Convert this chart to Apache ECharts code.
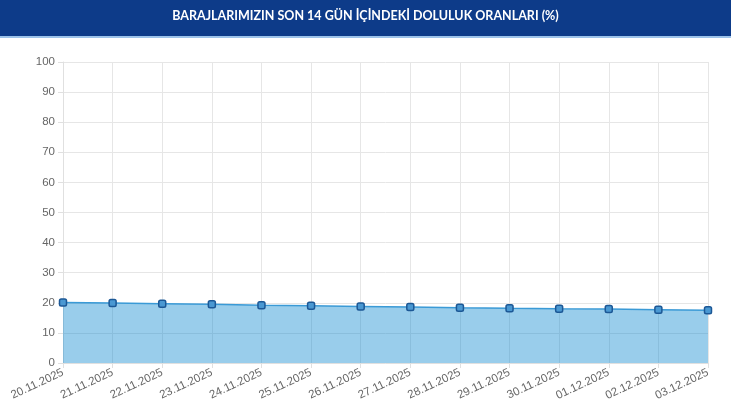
<!DOCTYPE html>
<html>
<head>
<meta charset="utf-8">
<script src="https://cdn.jsdelivr.net/npm/echarts@6/dist/echarts.min.js"></script>
<style>
  html, body { margin: 0; padding: 0; background: #fff; }
  #chart { width: 731px; height: 410px; }
</style>
</head>
<body>
<div id="chart"></div>
<script>
// tarih etiketleri
var dates = ['20.11.2025', '21.11.2025', '22.11.2025', '23.11.2025', '24.11.2025',
  '25.11.2025', '26.11.2025', '27.11.2025', '28.11.2025', '29.11.2025',
  '30.11.2025', '01.12.2025', '02.12.2025', '03.12.2025'];
// doluluk oranlari (%)
var doluluk = [20.1, 19.9, 19.7, 19.5, 19.2, 19.0, 18.8, 18.6, 18.35, 18.15, 18.0, 17.9, 17.7, 17.5];

var titleText = 'BARAJLARIMIZIN SON 14 GÜN İÇİNDEKİ DOLULUK ORANLARI (%)';

var myChart = echarts.init(document.getElementById('chart'));

var option = {
  animation: false,
  // ust baslik bandi
  graphic: [
    { type: 'rect', left: 0, top: 0, shape: { width: 731, height: 36 }, style: { fill: '#0d3b89' }, z: 0 },
    { type: 'rect', left: 0, top: 36, shape: { width: 731, height: 2 }, style: { fill: '#9cc3ea' }, z: 0 }
  ],
  title: {
    text: titleText,
    left: 'center',
    top: 4,
    textStyle: { color: '#fff', fontSize: 12.5, fontWeight: 'bolder', fontFamily: 'Lato' }
  },
  grid: { left: 63, right: 23, top: 62, bottom: 47 },
  xAxis: {
    type: 'category',
    data: dates,
    boundaryGap: false,
    axisLine: { show: true, lineStyle: { color: '#e0e0e0' } },
    axisTick: { show: true, alignWithLabel: true, length: 5, lineStyle: { color: '#e0e0e0' } },
    axisLabel: { rotate: 25, color: '#666', fontSize: 11.5, fontFamily: 'Arial', margin: 9, interval: 0 },
    splitLine: { show: true, lineStyle: { color: '#e6e6e6' } }
  },
  yAxis: {
    type: 'value',
    min: 0,
    max: 100,
    interval: 10,
    axisLine: { show: true, lineStyle: { color: '#e0e0e0' } },
    axisTick: { show: true, length: 5, lineStyle: { color: '#e0e0e0' } },
    axisLabel: { color: '#666', fontSize: 11.5, fontFamily: 'Arial', margin: 8 },
    splitLine: { show: true, lineStyle: { color: '#e6e6e6' } }
  },
  series: [
    {
      name: 'Doluluk',
      type: 'line',
      data: doluluk,
      symbol: 'roundRect',
      symbolSize: 7,
      itemStyle: { color: '#4a98d2', borderColor: '#1c5896', borderWidth: 1.5 },
      lineStyle: { color: '#3a9ad6', width: 1.5 },
      areaStyle: { color: 'rgba(0,130,205,0.4)', opacity: 1 },
      z: 3
    }
  ]
};

myChart.setOption(option);
</script>
</body>
</html>
